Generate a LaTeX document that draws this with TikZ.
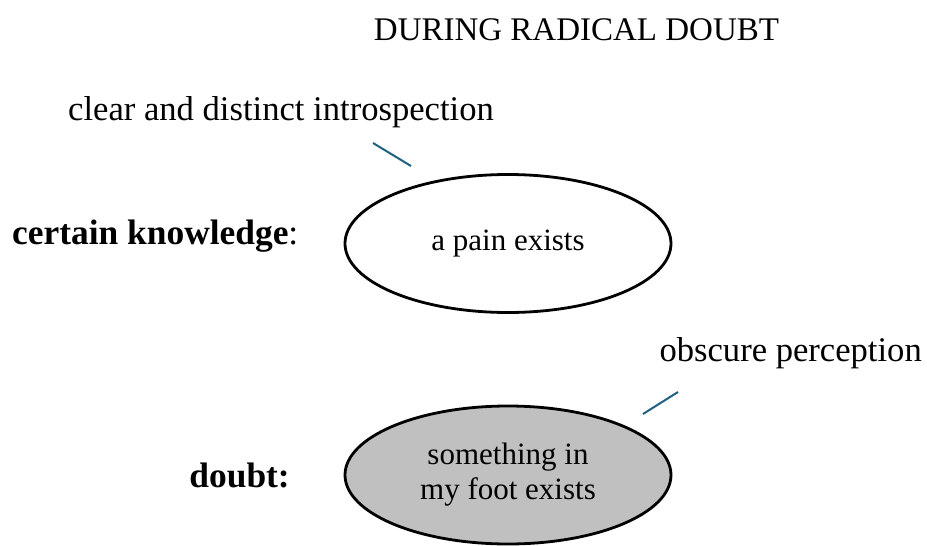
\documentclass[tikz,border=0pt]{standalone}
\usepackage{fontspec}
\setmainfont{Liberation Serif}
\usetikzlibrary{shapes.geometric}
\definecolor{linkteal}{RGB}{31,97,128}
\definecolor{doubtgray}{RGB}{192,192,192}
\tikzset{
  bubble/.style={ellipse, draw=black, line width=2.8pt, minimum width=326pt, minimum height=138pt, inner sep=0pt, align=center, font=\fontsize{31}{35}\selectfont},
  plainlabel/.style={inner sep=0pt, font=\fontsize{34.6}{40}\selectfont},
  boldlabel/.style={inner sep=0pt, font=\fontsize{35.4}{40}\selectfont\bfseries},
  tick/.style={draw=linkteal, line width=2pt}
}
\begin{document}
\begin{tikzpicture}[x=1pt,y=-1pt]
\useasboundingbox (0,0) rectangle (927,546);
\node[plainlabel, anchor=base, font=\fontsize{33}{38}\selectfont] (title) at (576.5,40) {DURING RADICAL DOUBT};
\node[plainlabel, anchor=base west] (clear) at (68,120) {clear and distinct introspection};
\node[boldlabel, anchor=base west] (certain) at (12,244) {certain knowledge\mdseries:};
\node[boldlabel, anchor=base east] (doubt) at (290,487) {doubt:};
\node[plainlabel, anchor=base east] (obscure) at (922,361) {obscure perception};
\node[bubble] (pain) at (508,243.5) {a pain exists};
\node[bubble, fill=doubtgray] (foot) at (508,475) {something in\\my foot exists};
\coordinate (c1a) at (373,143);
\coordinate (c1b) at (411,166);
\coordinate (c2a) at (643,414);
\coordinate (c2b) at (678,392);
\draw[tick] (c1a) -- (c1b);
\draw[tick] (c2a) -- (c2b);
\end{tikzpicture}
\end{document}
